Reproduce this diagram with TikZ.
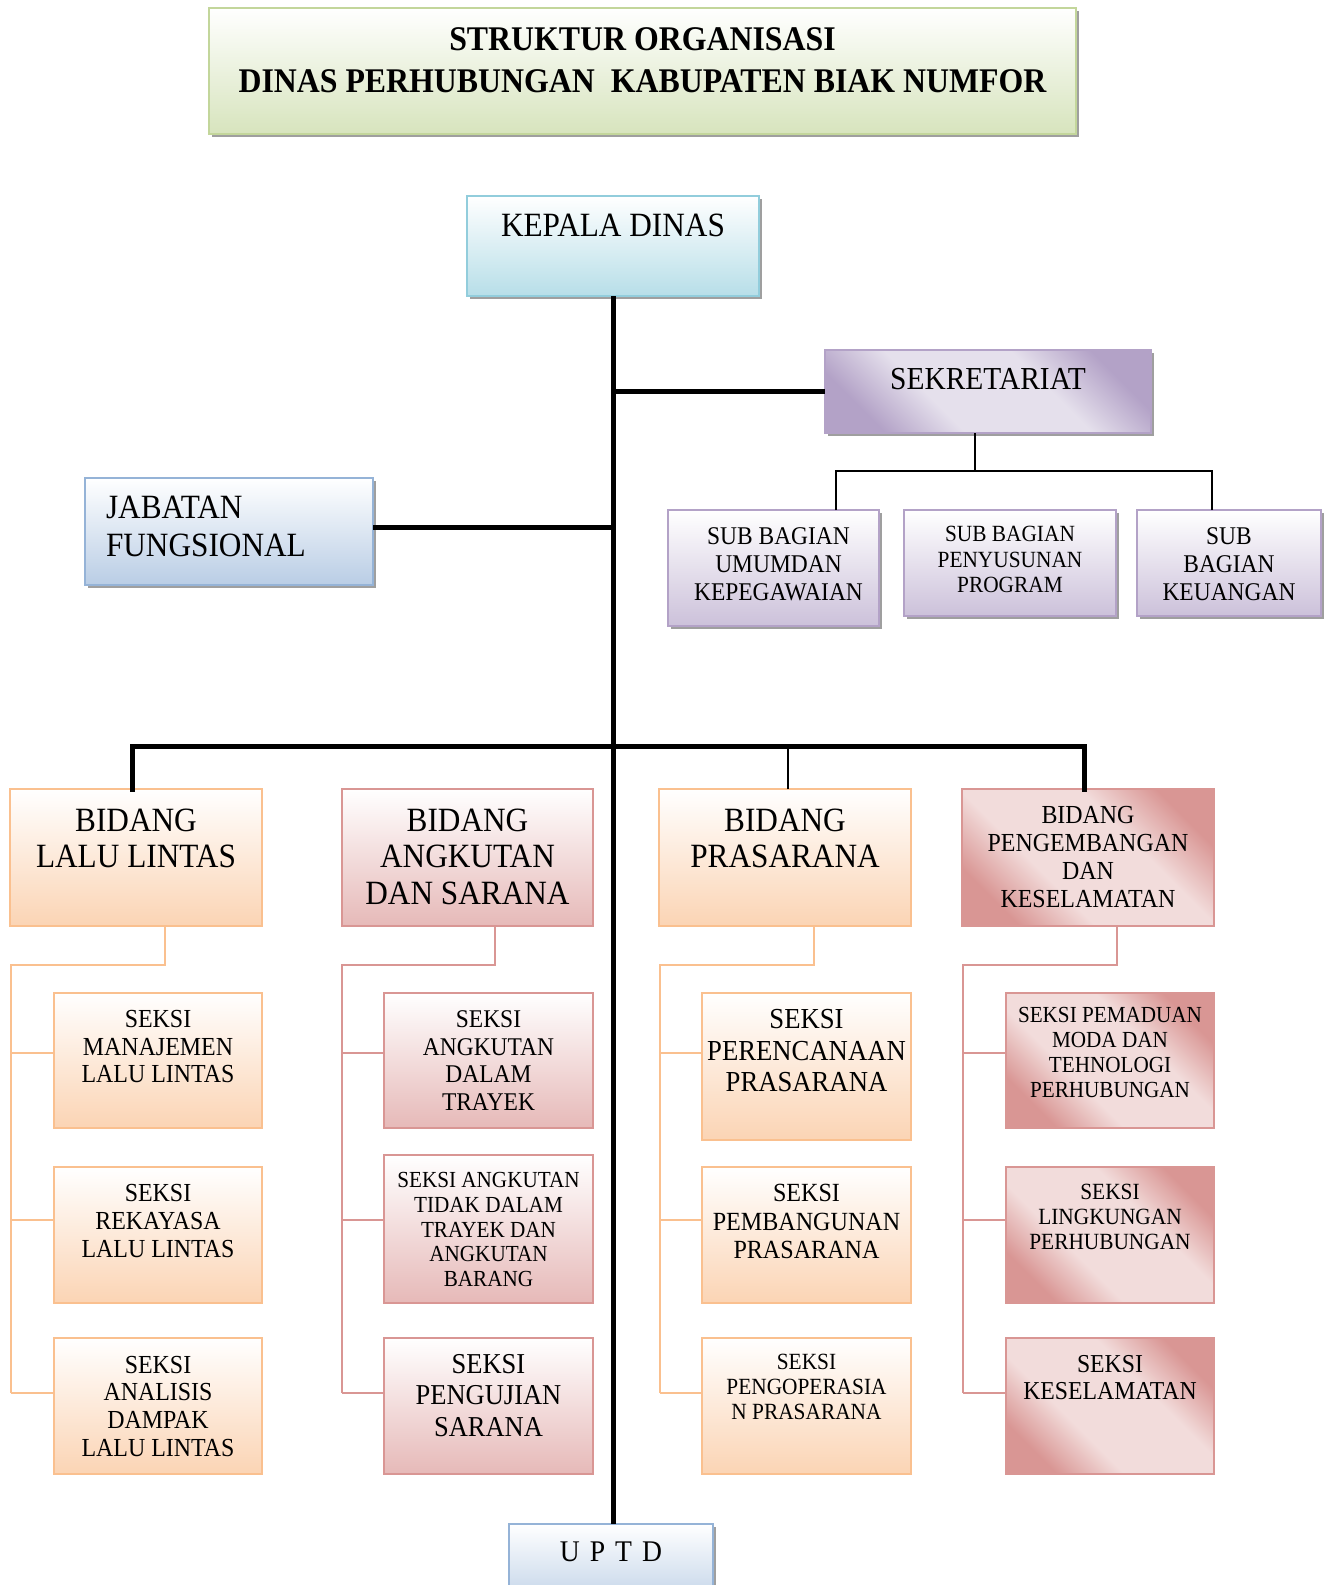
\documentclass[tikz,border=0pt]{standalone}
\usepackage{fontspec}
\setmainfont{Liberation Serif}[FakeStretch=0.92]
\usetikzlibrary{shadows}
\definecolor{obord}{HTML}{FAC08F}
\definecolor{ofill}{HTML}{FBD4B4}
\definecolor{rbord}{HTML}{D99694}
\definecolor{rfill}{HTML}{E6B9B8}
\definecolor{rdark}{HTML}{D99694}
\definecolor{rlight}{HTML}{F2DCDB}
\definecolor{pbord}{HTML}{B3A2C7}
\definecolor{pdark}{HTML}{B3A2C7}
\definecolor{plight}{HTML}{E5E0EC}
\definecolor{pfill}{HTML}{CCC1DA}
\definecolor{kbord}{HTML}{92CDDC}
\definecolor{kfill}{HTML}{B7DEE8}
\definecolor{bbord}{HTML}{95B3D7}
\definecolor{bfill}{HTML}{B9CDE5}
\definecolor{gbord}{HTML}{C3D69B}
\definecolor{gfill}{HTML}{D7E4BD}
\pgfdeclarehorizontalshading{redmirror}{100bp}{color(0bp)=(rdark); color(25bp)=(rdark); color(39bp)=(rlight); color(61bp)=(rlight); color(75bp)=(rdark); color(100bp)=(rdark)}
\pgfdeclarehorizontalshading{purmirror}{100bp}{color(0bp)=(pdark); color(25bp)=(pdark); color(39bp)=(plight); color(61bp)=(plight); color(75bp)=(pdark); color(100bp)=(pdark)}
\newcommand\myfs[2]{\fontsize{#1}{#2}\selectfont}
\tikzset{
  every node/.style={inner sep=0pt, outer sep=0pt},
  tline/.style={line width=5pt, black},
  nline/.style={line width=1.8pt, black},
  oline/.style={line width=2.5pt, obord},
  rline/.style={line width=2.5pt, rbord},
  lbl/.style={anchor=north, align=center, inner sep=0pt},
  shad/.style={drop shadow={shadow xshift=3pt, shadow yshift=-3pt, fill=gray!75, opacity=1}},
  basebox/.style={anchor=north west, line width=2pt, inner sep=0pt},
  obox/.style={basebox, draw=obord, top color=white, bottom color=ofill},
  rbox/.style={basebox, draw=rbord, top color=white, bottom color=rfill},
  mbox/.style={basebox, draw=rbord, shading=redmirror, shading angle=45},
  pbox/.style={basebox, draw=pbord, shading=purmirror, shading angle=45, shad},
  sbox/.style={basebox, draw=pbord, top color=white, bottom color=pfill, shad},
  kbox/.style={basebox, draw=kbord, top color=white, bottom color=kfill, shad},
  bbox/.style={basebox, draw=bbord, top color=white, bottom color=bfill, shad},
  gbox/.style={basebox, draw=gbord, top color=white, bottom color=gfill, shad},
}
\begin{document}
\begin{tikzpicture}[x=1pt, y=-1pt]
\useasboundingbox (0,0) rectangle (1327,1585);
% ---------- boxes ----------
\node[gbox, minimum width=867pt, minimum height=126pt] (title) at (209,8) {};
\node[kbox, minimum width=292pt, minimum height=100pt] (kepala) at (467,196) {};
\node[pbox, minimum width=326pt, minimum height=83pt] (sekr) at (825,350) {};
\node[bbox, minimum width=288pt, minimum height=107pt] (jab) at (85,478) {};
\node[sbox, minimum width=211pt, minimum height=116pt] (sub1) at (668,510) {};
\node[sbox, minimum width=212pt, minimum height=106pt] (sub2) at (904,510) {};
\node[sbox, minimum width=184pt, minimum height=106pt] (sub3) at (1137,510) {};
\node[obox, minimum width=252pt, minimum height=137pt] (b1) at (10,789) {};
\node[rbox, minimum width=251pt, minimum height=137pt] (b2) at (342,789) {};
\node[obox, minimum width=252pt, minimum height=137pt] (b3) at (659,789) {};
\node[mbox, minimum width=252pt, minimum height=137pt] (b4) at (962,789) {};
% column 1
\node[obox, minimum width=208pt, minimum height=135pt] (s11) at (54,993) {};
\node[obox, minimum width=208pt, minimum height=136pt] (s12) at (54,1167) {};
\node[obox, minimum width=208pt, minimum height=136pt] (s13) at (54,1338) {};
% column 2
\node[rbox, minimum width=209pt, minimum height=135pt] (s21) at (384,993) {};
\node[rbox, minimum width=209pt, minimum height=148pt] (s22) at (384,1155) {};
\node[rbox, minimum width=209pt, minimum height=136pt] (s23) at (384,1338) {};
% column 3
\node[obox, minimum width=209pt, minimum height=147pt] (s31) at (702,993) {};
\node[obox, minimum width=209pt, minimum height=136pt] (s32) at (702,1167) {};
\node[obox, minimum width=209pt, minimum height=136pt] (s33) at (702,1338) {};
% column 4
\node[mbox, minimum width=208pt, minimum height=135pt] (s41) at (1006,993) {};
\node[mbox, minimum width=208pt, minimum height=136pt] (s42) at (1006,1167) {};
\node[mbox, minimum width=208pt, minimum height=136pt] (s43) at (1006,1338) {};
% UPTD
\node[bbox, minimum width=204pt, minimum height=90pt] (uptd) at (509,1524) {};

% ---------- texts ----------
\node[lbl, font=\bfseries\myfs{34.6}{42}] (titlet) at ([yshift=-20pt]title.north) {STRUKTUR ORGANISASI\\DINAS PERHUBUNGAN\ \ KABUPATEN BIAK NUMFOR};
\node[lbl, font=\myfs{34}{40}] (kepalat) at ([yshift=-18pt]kepala.north) {KEPALA DINAS};
\node[lbl, font=\myfs{32}{38}] (sekrt) at ([yshift=-18pt]sekr.north) {SEKRETARIAT};
\node[anchor=north west, align=left, font=\myfs{34}{38.5}] (jabt) at (106,496) {JABATAN\\FUNGSIONAL};
\node[lbl, font=\myfs{25.5}{28}] (sub1t) at ([xshift=5pt, yshift=-17.5pt]sub1.north) {SUB BAGIAN\\UMUMDAN\\KEPEGAWAIAN};
\node[lbl, font=\myfs{23.2}{25.3}] (sub2t) at ([yshift=-16.6pt]sub2.north) {SUB BAGIAN\\PENYUSUNAN\\PROGRAM};
\node[lbl, font=\myfs{25.5}{28}] (sub3t) at ([yshift=-17.5pt]sub3.north) {SUB\\BAGIAN\\KEUANGAN};
\node[lbl, font=\myfs{34}{36.8}] (b1t) at ([yshift=-19.5pt]b1.north) {BIDANG\\LALU LINTAS};
\node[lbl, font=\myfs{34}{36.8}] (b2t) at ([yshift=-19.5pt]b2.north) {BIDANG\\ANGKUTAN\\DAN SARANA};
\node[lbl, font=\myfs{34}{36.8}] (b3t) at ([yshift=-19.5pt]b3.north) {BIDANG\\PRASARANA};
\node[lbl, font=\myfs{26}{28}] (b4t) at ([yshift=-17.5pt]b4.north) {BIDANG\\PENGEMBANGAN\\DAN\\KESELAMATAN};
\node[lbl, font=\myfs{26}{27.4}] (s11t) at ([yshift=-17.7pt]s11.north) {SEKSI\\MANAJEMEN\\LALU LINTAS};
\node[lbl, font=\myfs{26}{27.6}] (s12t) at ([yshift=-17.6pt]s12.north) {SEKSI\\REKAYASA\\LALU LINTAS};
\node[lbl, font=\myfs{26}{27.6}] (s13t) at ([yshift=-18pt]s13.north) {SEKSI\\ANALISIS\\DAMPAK\\LALU LINTAS};
\node[lbl, font=\myfs{25.5}{27.6}] (s21t) at ([yshift=-17.7pt]s21.north) {SEKSI\\ANGKUTAN\\DALAM\\TRAYEK};
\node[lbl, font=\myfs{23}{24.7}] (s22t) at ([yshift=-17.4pt]s22.north) {SEKSI ANGKUTAN\\TIDAK DALAM\\TRAYEK DAN\\ANGKUTAN\\BARANG};
\node[lbl, font=\myfs{28.8}{31.8}] (s23t) at ([yshift=-16pt]s23.north) {SEKSI\\PENGUJIAN\\SARANA};
\node[lbl, font=\myfs{29}{31.3}] (s31t) at ([yshift=-16.7pt]s31.north) {SEKSI\\PERENCANAAN\\PRASARANA};
\node[lbl, font=\myfs{26.2}{28.3}] (s32t) at ([yshift=-17.6pt]s32.north) {SEKSI\\PEMBANGUNAN\\PRASARANA};
\node[lbl, font=\myfs{23.2}{25.3}] (s33t) at ([yshift=-16pt]s33.north) {SEKSI\\PENGOPERASIA\\N PRASARANA};
\node[lbl, font=\myfs{23}{24.8}] (s41t) at ([yshift=-14.7pt]s41.north) {SEKSI PEMADUAN\\MODA DAN\\TEHNOLOGI\\PERHUBUNGAN};
\node[lbl, font=\myfs{23.2}{24.8}] (s42t) at ([yshift=-17.6pt]s42.north) {SEKSI\\LINGKUNGAN\\PERHUBUNGAN};
\node[lbl, font=\myfs{25.8}{27.4}] (s43t) at ([yshift=-17pt]s43.north) {SEKSI\\KESELAMATAN};
\node[lbl, font=\myfs{30}{34}] (uptdt) at ([yshift=-18pt]uptd.north) {U\,\,P\,\,T\,\,D};

% ---------- connectors ----------
\coordinate (bus) at (613,746);
\draw[tline] (kepala.south) -- (kepala.south |- uptd.north);
\draw[tline] (kepala.south |- sekr.west) -- (sekr.west);
\draw[tline] (jab.east |- 0,527) -- (kepala.south |- 0,527);
\draw[tline, line cap=rect] ([xshift=-4pt]b1.north) |- (bus) -| ([xshift=-4pt]b4.north);
\draw[nline] (b3.north -| 788,0) -- (788,746);
% sekretariat children
\coordinate (sj) at (975,471);
\draw[nline] (sekr.south -| sj) -- (sj);
\draw[nline] (sub1.north -| 836,0) |- (sj) -| (sub3.north -| 1212,0);
% column 1
\coordinate (c1j) at (11,965);
\draw[oline] (b1.south -| 165,0) |- (c1j) -- (11,1393);
\coordinate (c1a) at (11,1053);
\coordinate (c1b) at (11,1220);
\coordinate (c1c) at (11,1393);
\draw[oline] (c1a) -- (c1a -| s11.west);
\draw[oline] (c1b) -- (c1b -| s12.west);
\draw[oline] (c1c) -- (c1c -| s13.west);
% column 2
\coordinate (c2j) at (342,965);
\draw[rline] (b2.south -| 495,0) |- (c2j) -- (342,1393);
\coordinate (c2a) at (342,1053);
\coordinate (c2b) at (342,1220);
\coordinate (c2c) at (342,1393);
\draw[rline] (c2a) -- (c2a -| s21.west);
\draw[rline] (c2b) -- (c2b -| s22.west);
\draw[rline] (c2c) -- (c2c -| s23.west);
% column 3
\coordinate (c3j) at (660,965);
\draw[oline] (b3.south -| 814,0) |- (c3j) -- (660,1393);
\coordinate (c3a) at (660,1053);
\coordinate (c3b) at (660,1220);
\coordinate (c3c) at (660,1393);
\draw[oline] (c3a) -- (c3a -| s31.west);
\draw[oline] (c3b) -- (c3b -| s32.west);
\draw[oline] (c3c) -- (c3c -| s33.west);
% column 4
\coordinate (c4j) at (963,965);
\draw[rline] (b4.south -| 1117,0) |- (c4j) -- (963,1393);
\coordinate (c4a) at (963,1053);
\coordinate (c4b) at (963,1220);
\coordinate (c4c) at (963,1393);
\draw[rline] (c4a) -- (c4a -| s41.west);
\draw[rline] (c4b) -- (c4b -| s42.west);
\draw[rline] (c4c) -- (c4c -| s43.west);
\end{tikzpicture}
\end{document}
